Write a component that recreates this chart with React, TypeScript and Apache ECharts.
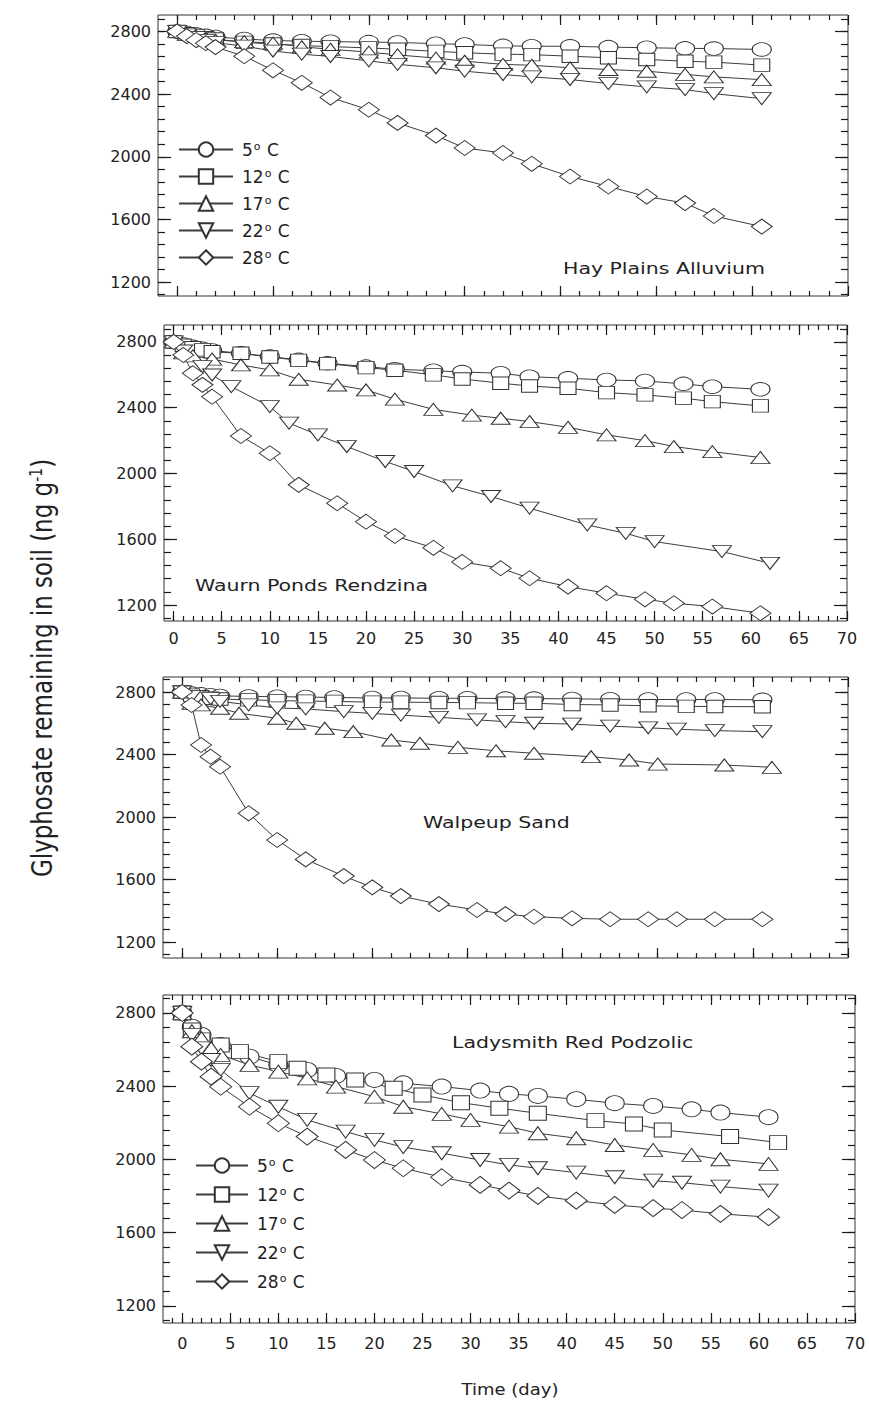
import React, { useEffect, useRef } from "react";
import * as echarts from "echarts";

// ---------- labels ----------
const TEMPS = ["5° C", "12° C", "17° C", "22° C", "28° C"];
const SOILS = ["Hay Plains Alluvium", "Waurn Ponds Rendzina", "Walpeup Sand", "Ladysmith Red Podzolic"];
const Y_TICK_LABELS = [1200, 1600, 2000, 2400, 2800];
const X_TICK_LABELS = [0, 5, 10, 15, 20, 25, 30, 35, 40, 45, 50, 55, 60, 65, 70];
const Y_TITLE = "Glyphosate remaining in soil (ng g{s|-1})";
const X_TITLE = "Time (day)";

// ---------- Hay Plains Alluvium ----------
const hayDays = [0, 1, 2, 3, 4, 7, 10, 13, 16, 20, 23, 27, 30, 34, 37, 41, 45, 49, 53, 56, 61];
const hay5 = [2800, 2790, 2780, 2772, 2765, 2752, 2742, 2738, 2735, 2732, 2730, 2722, 2717, 2708, 2706, 2705, 2700, 2696, 2692, 2691, 2685];
const hay12 = [2800, 2785, 2772, 2760, 2752, 2730, 2720, 2710, 2703, 2695, 2686, 2673, 2664, 2655, 2652, 2642, 2632, 2621, 2610, 2604, 2585];
const hay17 = [2800, 2782, 2768, 2755, 2745, 2735, 2725, 2702, 2686, 2668, 2650, 2630, 2610, 2590, 2584, 2568, 2557, 2546, 2526, 2510, 2492];
const hay22 = [2800, 2778, 2760, 2742, 2728, 2706, 2675, 2655, 2640, 2612, 2590, 2568, 2546, 2525, 2510, 2493, 2467, 2446, 2429, 2403, 2371];
const hay28 = [2800, 2770, 2745, 2725, 2700, 2642, 2552, 2472, 2378, 2300, 2216, 2135, 2056, 2024, 1955, 1874, 1810, 1746, 1704, 1622, 1554];

// ---------- Waurn Ponds Rendzina ----------
const wpDays = [0, 1, 2, 3, 4, 7, 10, 13, 16, 20, 23, 27, 30, 34, 37, 41, 45, 49, 53, 56, 61];
const wp5 = [2800, 2785, 2770, 2758, 2748, 2731, 2711, 2691, 2670, 2650, 2634, 2625, 2617, 2610, 2589, 2579, 2569, 2563, 2545, 2528, 2512];
const wp12 = [2800, 2780, 2765, 2752, 2740, 2731, 2708, 2688, 2668, 2644, 2628, 2600, 2575, 2549, 2532, 2518, 2492, 2478, 2458, 2437, 2411];
const wp17Days = [0, 1, 2, 4, 7, 10, 13, 17, 20, 23, 27, 31, 34, 37, 41, 45, 49, 52, 56, 61];
const wp17 = [2800, 2733, 2715, 2696, 2660, 2630, 2573, 2538, 2508, 2452, 2390, 2355, 2336, 2316, 2281, 2235, 2200, 2164, 2133, 2097];
const wp22Days = [0, 1, 3, 4, 6, 10, 12, 15, 18, 22, 25, 29, 33, 37, 43, 47, 50, 57, 62];
const wp22 = [2800, 2745, 2650, 2599, 2528, 2407, 2306, 2235, 2164, 2073, 2012, 1925, 1860, 1789, 1687, 1636, 1586, 1525, 1454];
const wp28Days = [0, 1, 2, 3, 4, 7, 10, 13, 17, 20, 23, 27, 30, 34, 37, 41, 45, 49, 52, 56, 61];
const wp28 = [2800, 2721, 2610, 2539, 2467, 2228, 2123, 1931, 1819, 1707, 1620, 1548, 1462, 1424, 1363, 1312, 1272, 1235, 1211, 1191, 1150];

// ---------- Walpeup Sand ----------
const wsDays = [0, 1, 2, 3, 4, 7, 10, 13, 16, 20, 23, 27, 30, 34, 37, 41, 45, 49, 53, 56, 61];
const ws5 = [2800, 2790, 2785, 2780, 2775, 2772, 2770, 2768, 2765, 2762, 2762, 2760, 2760, 2758, 2758, 2756, 2754, 2752, 2752, 2752, 2750];
const ws12 = [2800, 2780, 2770, 2760, 2755, 2750, 2745, 2742, 2740, 2735, 2735, 2733, 2732, 2728, 2728, 2720, 2717, 2712, 2708, 2707, 2706];
const ws17Days = [0, 1, 2, 4, 6, 10, 12, 15, 18, 22, 25, 29, 33, 37, 43, 47, 50, 57, 62];
const ws17 = [2800, 2728, 2717, 2696, 2664, 2632, 2600, 2568, 2546, 2493, 2472, 2446, 2424, 2408, 2386, 2365, 2339, 2333, 2318];
const ws22Days = [0, 1, 3, 4, 7, 10, 13, 17, 20, 23, 27, 31, 34, 37, 41, 45, 49, 52, 56, 61];
const ws22 = [2800, 2772, 2758, 2740, 2718, 2698, 2692, 2674, 2663, 2652, 2638, 2622, 2610, 2600, 2595, 2582, 2571, 2562, 2553, 2546];
const ws28Days = [0, 1, 2, 3, 4, 7, 10, 13, 17, 20, 23, 27, 31, 34, 37, 41, 45, 49, 52, 56, 61];
const ws28 = [2800, 2717, 2461, 2386, 2322, 2024, 1853, 1729, 1622, 1550, 1494, 1443, 1405, 1379, 1362, 1352, 1346, 1346, 1346, 1346, 1346];

// ---------- Ladysmith Red Podzolic ----------
const lr5Days = [0, 1, 2, 4, 7, 10, 13, 16, 20, 23, 27, 31, 34, 37, 41, 45, 49, 53, 56, 61];
const lr5 = [2800, 2725, 2680, 2625, 2561, 2516, 2489, 2456, 2434, 2416, 2398, 2376, 2358, 2347, 2329, 2307, 2292, 2274, 2256, 2231];
const lr12Days = [0, 1, 2, 4, 6, 10, 12, 15, 18, 22, 25, 29, 33, 37, 43, 47, 50, 57, 62];
const lr12 = [2800, 2707, 2653, 2625, 2589, 2534, 2498, 2461, 2434, 2389, 2352, 2310, 2280, 2252, 2212, 2194, 2161, 2125, 2092];
const lr17Days = [0, 1, 2, 3, 4, 7, 10, 13, 16, 20, 23, 27, 30, 34, 37, 41, 45, 49, 53, 56, 61];
const lr17 = [2800, 2700, 2662, 2607, 2571, 2516, 2480, 2443, 2398, 2343, 2288, 2249, 2216, 2179, 2143, 2116, 2079, 2052, 2025, 2001, 1976];
const lr22Days = [0, 1, 2, 3, 4, 7, 10, 13, 17, 20, 23, 27, 31, 34, 37, 41, 45, 49, 52, 56, 61];
const lr22 = [2800, 2680, 2607, 2543, 2489, 2362, 2288, 2216, 2152, 2107, 2067, 2034, 1997, 1970, 1952, 1928, 1903, 1884, 1873, 1852, 1830];
const lr28Days = [0, 1, 2, 3, 4, 7, 10, 13, 17, 20, 23, 27, 31, 34, 37, 41, 45, 49, 52, 56, 61];
const lr28 = [2800, 2616, 2534, 2452, 2397, 2288, 2198, 2125, 2052, 1997, 1952, 1903, 1861, 1830, 1801, 1775, 1752, 1734, 1724, 1703, 1685];

const PANEL_DATA: [number[], number[]][][] = [
  [[hayDays, hay5], [hayDays, hay12], [hayDays, hay17], [hayDays, hay22], [hayDays, hay28]],
  [[wpDays, wp5], [wpDays, wp12], [wp17Days, wp17], [wp22Days, wp22], [wp28Days, wp28]],
  [[wsDays, ws5], [wsDays, ws12], [ws17Days, ws17], [ws22Days, ws22], [ws28Days, ws28]],
  [[lr5Days, lr5], [lr12Days, lr12], [lr17Days, lr17], [lr22Days, lr22], [lr28Days, lr28]],
];

// ---------- styling / layout ----------
const FONT = "DejaVu Sans";
const INK = "#222";
const LINE = "#3c3c3c";
const TICK = "#1a1a1a";
const SYMBOLS = ["circle", "rect", "triangle", "path://M0,0L10,0L5,8.66Z", "diamond"];
const SIZES_A = [[19, 13.5], [16, 12.5], [19, 12], [19, 12], [21, 15]];
const SIZES_B = [[19, 15], [17, 14], [19, 13], [19, 13], [22, 17]];

const PANELS = [
  { left: 158, top: 15, width: 690, height: 281, xMin: -2, xMax: 70, yMin: 1111, yMax: 2905, labels: false, xMajor: 10, xMinor: 2, sizes: SIZES_A, labelMargin: 10 },
  { left: 164, top: 325, width: 683, height: 296, xMin: -1, xMax: 70, yMin: 1103, yMax: 2903, labels: true, xMajor: 5, xMinor: 1, sizes: SIZES_A, labelMargin: 9 },
  { left: 163, top: 677, width: 685, height: 281, xMin: -2, xMax: 70, yMin: 1098, yMax: 2896, labels: false, xMajor: 10, xMinor: 2, sizes: SIZES_A, labelMargin: 10 },
  { left: 163, top: 995, width: 692, height: 328, xMin: -2, xMax: 70, yMin: 1107, yMax: 2898, labels: true, xMajor: 5, xMinor: 1, sizes: SIZES_B, labelMargin: 12 },
];

function steps(from: number, to: number, step: number, lo: number, hi: number) {
  const out: number[] = [];
  for (let v = from; v <= to + 1e-9; v += step) if (v > lo && v < hi) out.push(v);
  return out;
}

function pairs(days: number[], vals: number[]) {
  return days.map((d, i) => [d, vals[i]]);
}

function buildOption() {
  const grid: any[] = [];
  const xAxis: any[] = [];
  const yAxis: any[] = [];
  const series: any[] = [];

  PANELS.forEach((p, pi) => {
    grid.push({
      left: p.left, top: p.top, width: p.width, height: p.height,
      show: true, borderColor: "#333", borderWidth: 1,
    });
    const xMaj = steps(0, 70, p.xMajor, p.xMin - 0.01, p.xMax + 0.01);
    const xMin = steps(p.xMin <= -2 ? -2 : -1, 70, p.xMinor, p.xMin + 0.3, p.xMax - 0.3);
    const yMin = steps(1120, 2880, 80, p.yMin + 5, p.yMax - 5);

    const mkX = (pos: string, vals: number[], len: number, withLabels: boolean) => ({
      type: "value", gridIndex: pi, position: pos, min: p.xMin, max: p.xMax,
      axisLine: { show: false, onZero: false }, splitLine: { show: false },
      axisTick: { show: true, inside: true, length: len, lineStyle: { color: TICK, width: 1.2 }, customValues: vals.slice() },
      axisLabel: withLabels
        ? { show: true, customValues: X_TICK_LABELS.slice(), margin: p.labelMargin, fontFamily: FONT, fontSize: 16, color: INK, formatter: (v: number) => String(v) }
        : { show: false },
    });
    xAxis.push(mkX("bottom", xMaj, 10, p.labels));
    xAxis.push(mkX("bottom", xMin, 5, false));
    xAxis.push(mkX("top", xMaj, 10, false));
    xAxis.push(mkX("top", xMin, 5, false));

    const mkY = (pos: string, vals: number[], len: number, withLabels: boolean) => ({
      type: "value", gridIndex: pi, position: pos, min: p.yMin, max: p.yMax,
      axisLine: { show: false, onZero: false }, splitLine: { show: false },
      axisTick: { show: true, inside: true, length: len, lineStyle: { color: TICK, width: 1.2 }, customValues: vals.slice() },
      axisLabel: withLabels
        ? { show: true, customValues: Y_TICK_LABELS.slice(), margin: 7, fontFamily: FONT, fontSize: 16, color: INK, formatter: (v: number) => String(v) }
        : { show: false },
    });
    yAxis.push(mkY("left", Y_TICK_LABELS, 13, true));
    yAxis.push(mkY("left", yMin, 7, false));
    yAxis.push(mkY("right", Y_TICK_LABELS, 13, false));
    yAxis.push(mkY("right", yMin, 7, false));

    PANEL_DATA[pi].forEach(([days, vals], si) => {
      series.push({
        type: "line",
        name: TEMPS[si],
        xAxisIndex: pi * 4,
        yAxisIndex: pi * 4,
        data: pairs(days, vals),
        symbol: SYMBOLS[si],
        symbolSize: p.sizes[si],
        showSymbol: true,
        showAllSymbol: true,
        clip: false,
        silent: true,
        z: 3,
        itemStyle: { color: "#fff", borderColor: "#333", borderWidth: 1 },
        lineStyle: { color: LINE, width: 1 },
        emphasis: { disabled: true },
      });
    });
  });

  const legendFmt = (name: string) => name.replace("° C", "") + "{s|o} C";
  const legendText = {
    fontFamily: FONT, fontSize: 17, color: INK, padding: [0, 0, 0, 4],
    rich: { s: { fontFamily: FONT, fontSize: 11, color: INK, verticalAlign: "top", padding: [0, 1, 0, 1] } },
  };
  const legend = [
    { left: 173, top: 136, orient: "vertical", itemWidth: 54, itemHeight: 18, itemGap: 10, data: TEMPS, formatter: legendFmt, textStyle: legendText, selectedMode: false },
    { left: 190, top: 1152, orient: "vertical", itemWidth: 52, itemHeight: 18, itemGap: 12, data: TEMPS, formatter: legendFmt, textStyle: legendText, selectedMode: false },
  ];

  const soilPos = [
    { x: 563, y: 268 },
    { x: 195, y: 585 },
    { x: 423, y: 822 },
    { x: 452, y: 1042 },
  ];
  const graphic: any[] = SOILS.map((s, i) => ({
    type: "text", x: soilPos[i].x, y: soilPos[i].y, scaleX: 1.28, silent: true,
    style: { text: s, fontFamily: FONT, fontSize: 16, fill: INK, align: "left", textAlign: "left", verticalAlign: "middle", textVerticalAlign: "middle" },
  }));
  graphic.push({
    type: "text", x: 42, y: 668, rotation: Math.PI / 2, scaleY: 1.25, silent: true,
    style: {
      text: Y_TITLE, fontFamily: FONT, fontSize: 23, fill: INK,
      align: "center", textAlign: "center", verticalAlign: "middle", textVerticalAlign: "middle",
      rich: { s: { fontFamily: FONT, fontSize: 14, fill: INK, verticalAlign: "top" } },
    },
  });
  graphic.push({
    type: "text", x: 510, y: 1390, scaleX: 1.2, silent: true,
    style: { text: X_TITLE, fontFamily: FONT, fontSize: 15, fill: INK, align: "center", textAlign: "center", verticalAlign: "middle", textVerticalAlign: "middle" },
  });

  return {
    animation: false,
    grid, xAxis, yAxis, series, legend, graphic,
  };
}

export default function App() {
  const ref = useRef<HTMLDivElement>(null);
  useEffect(() => {
    document.body.style.margin = "0";
    document.body.style.background = "#fff";
    const chart = echarts.init(ref.current!, null, { renderer: "svg", width: 869, height: 1401 });
    chart.setOption(buildOption() as any);
    return () => chart.dispose();
  }, []);
  return <div ref={ref} style={{ width: 869, height: 1401 }} />;
}
